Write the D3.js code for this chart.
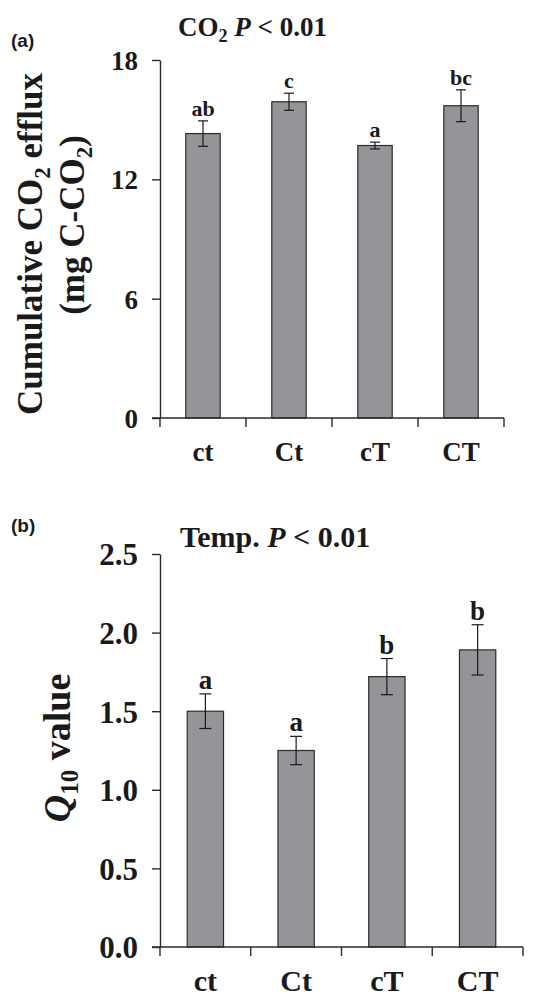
<!DOCTYPE html>
<html>
<head>
<meta charset="utf-8">
<script src="https://cdn.jsdelivr.net/npm/d3@7"></script>
<style>
html,body{margin:0;padding:0;background:#fff;}
svg{display:block;}
</style>
</head>
<body>
<svg id="chart" width="539" height="998"></svg>
<script>
// ---- data ----
const categories = ["ct", "Ct", "cT", "CT"];
const co2Values = [14.3, 15.9, 13.7, 15.7];
const co2Errors = [0.64, 0.43, 0.17, 0.8];
const co2Letters = ["ab", "c", "a", "bc"];
const co2Ticks = [0, 6, 12, 18];
const q10Values = [1.50, 1.25, 1.72, 1.89];
const q10Errors = [0.11, 0.09, 0.115, 0.16];
const q10Letters = ["a", "a", "b", "b"];
const q10Ticks = [0, 0.5, 1.0, 1.5, 2.0, 2.5];

const svg = d3.select("#chart");
const serif = "'Liberation Serif','Times New Roman',Times,serif";
const sans = "'Liberation Sans',Arial,Helvetica,sans-serif";
const axisColor = "#2a2a2a";

function panel(opts) {
  const x = d3.scaleBand().domain(categories).range([opts.x0, opts.x1])
    .paddingInner(0.6).paddingOuter(0.3);
  const y = d3.scaleLinear().domain(opts.domain).range([opts.y0, opts.y1]);
  const g = svg.append("g");
  const step = x.step();

  // bars
  g.selectAll("rect.bar").data(opts.values).join("rect")
    .attr("x", (d, i) => x(categories[i]))
    .attr("y", d => y(d))
    .attr("width", x.bandwidth())
    .attr("height", d => y(0) - y(d))
    .attr("fill", "#939598")
    .attr("stroke", "#2b2b2b")
    .attr("stroke-width", 1.2);

  // error bars
  const cx = i => x(categories[i]) + x.bandwidth() / 2;
  const eb = g.selectAll("g.err").data(opts.values).join("g");
  eb.append("line")
    .attr("x1", (d, i) => cx(i)).attr("x2", (d, i) => cx(i))
    .attr("y1", (d, i) => y(d + opts.errors[i])).attr("y2", (d, i) => y(d - opts.errors[i]));
  eb.append("line")
    .attr("x1", (d, i) => cx(i) - opts.cap).attr("x2", (d, i) => cx(i) + opts.cap)
    .attr("y1", (d, i) => y(d + opts.errors[i])).attr("y2", (d, i) => y(d + opts.errors[i]));
  eb.append("line")
    .attr("x1", (d, i) => cx(i) - opts.cap).attr("x2", (d, i) => cx(i) + opts.cap)
    .attr("y1", (d, i) => y(d - opts.errors[i])).attr("y2", (d, i) => y(d - opts.errors[i]));
  eb.selectAll("line").attr("stroke", "#1a1a1a").attr("stroke-width", 1.2);

  // significance letters
  g.selectAll("text.sig").data(opts.values).join("text")
    .attr("x", (d, i) => cx(i))
    .attr("y", (d, i) => y(d + opts.errors[i]) - 5)
    .attr("text-anchor", "middle")
    .attr("font-family", serif).attr("font-weight", "bold")
    .attr("font-size", opts.letterSize)
    .attr("fill", "#1a1a1a")
    .text((d, i) => opts.letters[i]);

  // y axis
  const yAxis = d3.axisLeft(y).tickValues(opts.ticks).tickFormat(opts.fmt)
    .tickSizeInner(8).tickSizeOuter(0).tickPadding(14);
  const ya = g.append("g").attr("transform", `translate(${opts.x0},0)`).call(yAxis);
  ya.select(".domain").attr("stroke", axisColor).attr("stroke-width", 1.4);
  ya.selectAll(".tick line").attr("stroke", axisColor).attr("stroke-width", 1.4);
  ya.selectAll(".tick text")
    .attr("font-family", serif).attr("font-weight", "bold")
    .attr("font-size", opts.tickSize).attr("fill", "#1a1a1a").attr("dy", "0.35em");

  // x axis (ticks at band boundaries)
  const bounds = d3.range(categories.length + 1).map(i => opts.x0 + i * step);
  g.append("line")
    .attr("x1", opts.x0 - 8).attr("x2", opts.xEnd)
    .attr("y1", y(0)).attr("y2", y(0))
    .attr("stroke", axisColor).attr("stroke-width", 1.4);
  g.selectAll("line.xt").data(bounds).join("line")
    .attr("x1", d => d).attr("x2", d => d)
    .attr("y1", y(0)).attr("y2", y(0) + 9)
    .attr("stroke", axisColor).attr("stroke-width", 1.4);
  g.selectAll("text.xl").data(categories).join("text")
    .attr("x", d => x(d) + x.bandwidth() / 2)
    .attr("y", opts.xLabelY)
    .attr("text-anchor", "middle")
    .attr("font-family", serif).attr("font-weight", "bold")
    .attr("font-size", opts.xLabelSize).attr("fill", "#1a1a1a")
    .text(d => d);
  return {x, y, g};
}

// ---------- panel (a) ----------
panel({
  x0: 160, x1: 504, xEnd: 504, y0: 418, y1: 60, domain: [0, 18],
  values: co2Values, errors: co2Errors, letters: co2Letters, ticks: co2Ticks,
  fmt: d3.format("d"), cap: 5, letterSize: 22, tickSize: 27, xLabelSize: 27, xLabelY: 461
});

// panel label
svg.append("text").attr("x", 11).attr("y", 47)
  .attr("font-family", sans).attr("font-weight", "bold").attr("font-size", 19)
  .attr("fill", "#1a1a1a").text("(a)");

// title (a)
const ta = svg.append("text").attr("x", 178).attr("y", 36)
  .attr("font-family", serif).attr("font-weight", "bold").attr("font-size", 27).attr("fill", "#1a1a1a");
ta.append("tspan").text("CO");
ta.append("tspan").attr("font-size", 18).attr("dy", 6).text("2");
ta.append("tspan").attr("dy", -6).text(" ");
ta.append("tspan").attr("font-style", "italic").text("P");
ta.append("tspan").text(" < 0.01");

// y label (a)
const yl1 = svg.append("text").attr("transform", "translate(42,244) rotate(-90)")
  .attr("text-anchor", "middle")
  .attr("font-family", serif).attr("font-weight", "bold").attr("font-size", 35).attr("fill", "#1a1a1a");
yl1.append("tspan").text("Cumulative CO");
yl1.append("tspan").attr("font-size", 23).attr("dy", 8).text("2");
yl1.append("tspan").attr("dy", -8).text(" efflux");

const yl2 = svg.append("text").attr("transform", "translate(84,225) rotate(-90)")
  .attr("text-anchor", "middle")
  .attr("font-family", serif).attr("font-weight", "bold").attr("font-size", 35).attr("fill", "#1a1a1a");
yl2.append("tspan").text("(mg C-CO");
yl2.append("tspan").attr("font-size", 23).attr("dy", 8).text("2");
yl2.append("tspan").attr("dy", -8).text(")");

// ---------- panel (b) ----------
panel({
  x0: 160, x1: 523, xEnd: 523, y0: 947, y1: 554, domain: [0, 2.5],
  values: q10Values, errors: q10Errors, letters: q10Letters, ticks: q10Ticks,
  fmt: d3.format(".1f"), cap: 6, letterSize: 27, tickSize: 31, xLabelSize: 30, xLabelY: 991
});

svg.append("text").attr("x", 11).attr("y", 532)
  .attr("font-family", sans).attr("font-weight", "bold").attr("font-size", 19)
  .attr("fill", "#1a1a1a").text("(b)");

const tb = svg.append("text").attr("x", 180).attr("y", 547)
  .attr("font-family", serif).attr("font-weight", "bold").attr("font-size", 30).attr("fill", "#1a1a1a");
tb.append("tspan").text("Temp. ");
tb.append("tspan").attr("font-style", "italic").text("P");
tb.append("tspan").text(" < 0.01");

const yb = svg.append("text").attr("transform", "translate(70,748) rotate(-90)")
  .attr("text-anchor", "middle")
  .attr("font-family", serif).attr("font-weight", "bold").attr("font-size", 38).attr("fill", "#1a1a1a");
yb.append("tspan").attr("font-style", "italic").text("Q");
yb.append("tspan").attr("font-size", 25).attr("dy", 8).text("10");
yb.append("tspan").attr("dy", -8).text(" value");
</script>
</body>
</html>
